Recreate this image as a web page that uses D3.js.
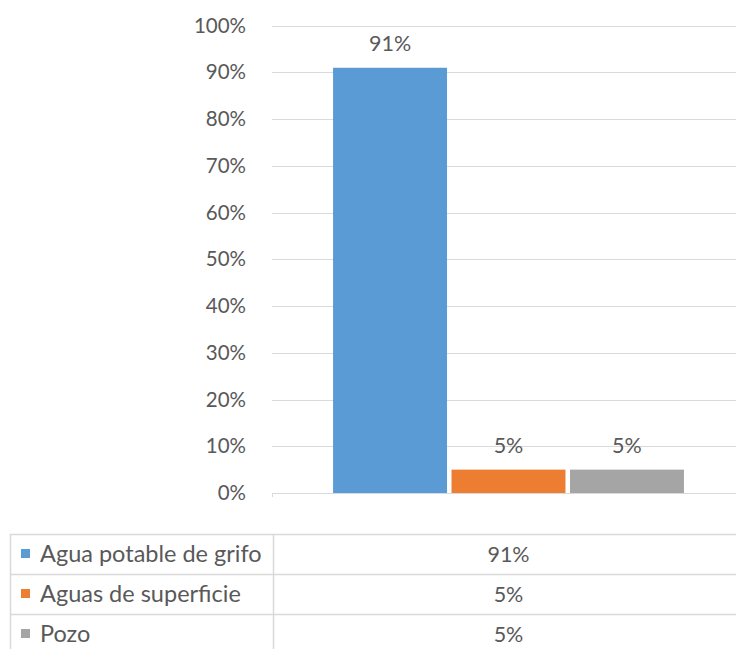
<!DOCTYPE html>
<html>
<head>
<meta charset="utf-8">
<script src="https://cdn.jsdelivr.net/npm/d3@7"></script>
<style>
  html, body { margin: 0; padding: 0; background: #fff; }
  svg { display: block; }
</style>
</head>
<body>
<svg id="chart" width="736" height="649"></svg>
<script>
const categories = ["Agua potable de grifo", "Aguas de superficie", "Pozo"];
const values = [0.91, 0.05, 0.05];
const colors = ["#5b9bd5", "#ed7d31", "#a5a5a5"];
const yTicks = [0, 0.1, 0.2, 0.3, 0.4, 0.5, 0.6, 0.7, 0.8, 0.9, 1.0];

const font = "Lato, 'Noto Sans', sans-serif";
const textColor = "#595959";
const gridColor = "#d9d9d9";

const svg = d3.select("#chart");
const fmt = d3.format(".0%");

const plot = { left: 272, right: 745, top: 25.7, bottom: 493 };

const y = d3.scaleLinear().domain([0, 1]).range([plot.bottom, plot.top]);
const xGroup = d3.scaleBand().domain(["g"]).range([plot.left, plot.right])
  .paddingInner(0).paddingOuter(0.174);
const xBar = d3.scaleBand().domain(categories).range([0, xGroup.bandwidth()])
  .paddingInner(0.038).paddingOuter(0);

// horizontal gridlines
svg.append("g").selectAll("line").data(yTicks).join("line")
  .attr("x1", plot.left).attr("x2", 736)
  .attr("y1", d => Math.round(y(d)) + 0.5).attr("y2", d => Math.round(y(d)) + 0.5)
  .attr("stroke", gridColor).attr("stroke-width", 1);

// y axis labels
const yAxis = svg.append("g").attr("transform", `translate(${plot.left},0)`)
  .call(d3.axisLeft(y).tickValues(yTicks).tickFormat(fmt).tickSize(0).tickPadding(26));
yAxis.select(".domain").remove();
yAxis.selectAll("text").attr("font-family", font).attr("font-size", 20.5)
  .attr("fill", textColor);

// bars
const gx = xGroup("g");
svg.append("g").selectAll("rect").data(categories).join("rect")
  .attr("x", d => gx + xBar(d))
  .attr("width", xBar.bandwidth())
  .attr("y", (d, i) => y(values[i]))
  .attr("height", (d, i) => y(0) - y(values[i]))
  .attr("fill", (d, i) => colors[i]);

// value labels above bars
svg.append("g").selectAll("text").data(categories).join("text")
  .attr("x", d => gx + xBar(d) + xBar.bandwidth() / 2)
  .attr("y", (d, i) => y(values[i]) - 17)
  .attr("text-anchor", "middle")
  .attr("font-family", font).attr("font-size", 21.5)
  .attr("fill", textColor)
  .text((d, i) => fmt(values[i]));

// small tick below the baseline
svg.append("line").attr("x1", plot.left + 0.5).attr("x2", plot.left + 0.5)
  .attr("y1", plot.bottom).attr("y2", plot.bottom + 4)
  .attr("stroke", gridColor);

// data table under the chart
const tbl = { left: 10, top: 534, colX: 273, rowH: 40 };
const tg = svg.append("g");
const rowLines = d3.range(categories.length + 1).map(i => tbl.top + i * tbl.rowH);
tg.selectAll("line.h").data(rowLines).join("line").attr("class", "h")
  .attr("x1", tbl.left).attr("x2", 736)
  .attr("y1", d => d + 0.5).attr("y2", d => d + 0.5)
  .attr("stroke", gridColor).attr("stroke-width", 1.5);
tg.selectAll("line.v").data([tbl.left, tbl.colX]).join("line").attr("class", "v")
  .attr("x1", d => d + 0.5).attr("x2", d => d + 0.5)
  .attr("y1", tbl.top).attr("y2", 649)
  .attr("stroke", gridColor).attr("stroke-width", 1.5);

const rows = tg.selectAll("g.row").data(categories).join("g").attr("class", "row")
  .attr("transform", (d, i) => `translate(0,${tbl.top + i * tbl.rowH})`);
rows.append("rect").attr("x", 21).attr("y", 15).attr("width", 9).attr("height", 9)
  .attr("fill", (d, i) => colors[i]);
rows.append("text").attr("x", 40).attr("y", 27.5)
  .attr("font-family", font).attr("font-size", 23.5).attr("fill", textColor)
  .text(d => d);
rows.append("text").attr("x", gx + xGroup.bandwidth() / 2).attr("y", 27.5)
  .attr("text-anchor", "middle")
  .attr("font-family", font).attr("font-size", 21.5).attr("fill", textColor)
  .text((d, i) => fmt(values[i]));
</script>
</body>
</html>
